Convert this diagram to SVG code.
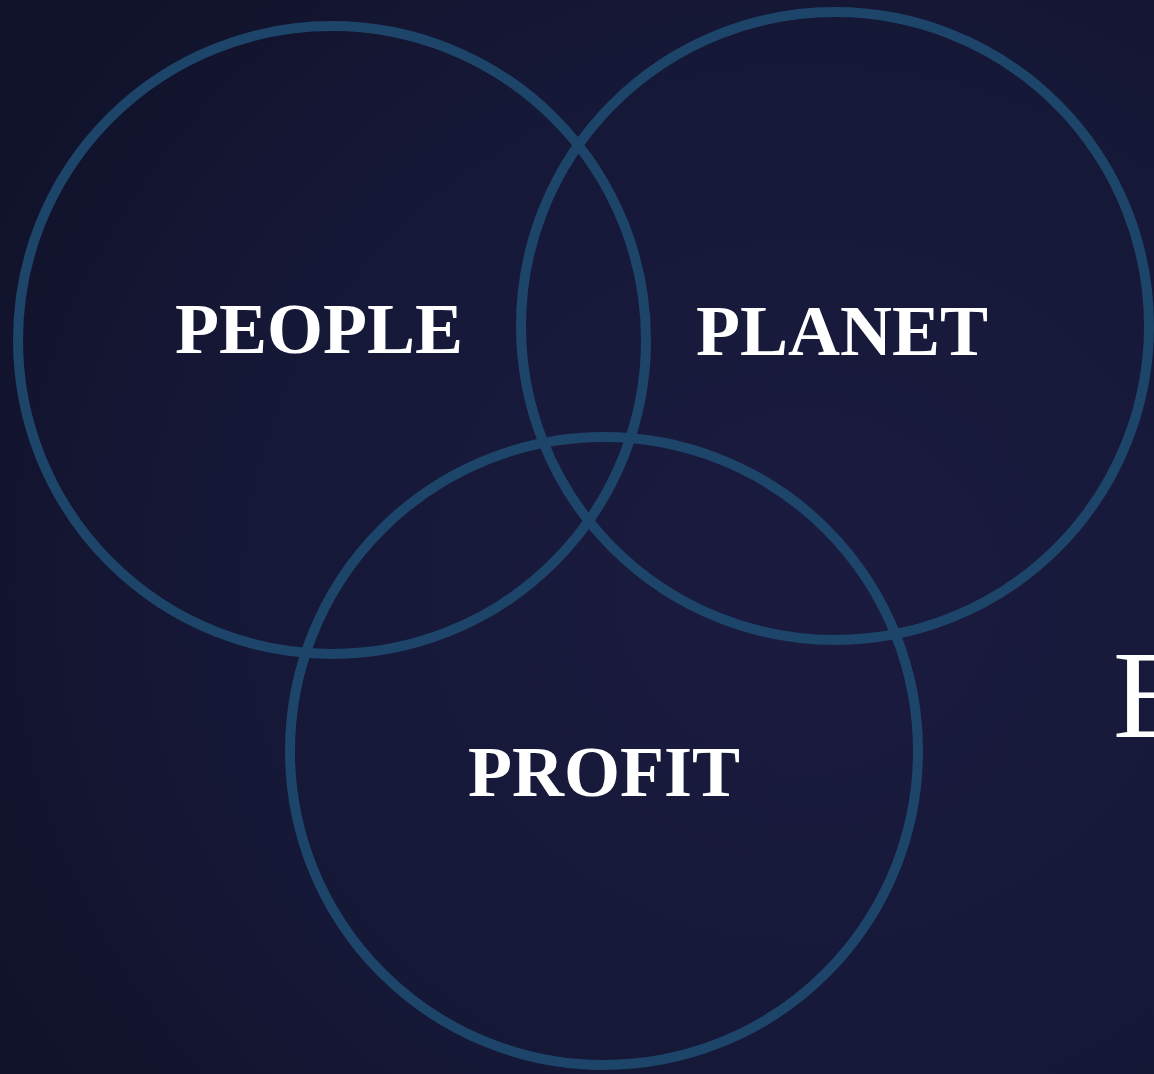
<svg xmlns="http://www.w3.org/2000/svg" width="1154" height="1074" viewBox="0 0 1154 1074">
<defs>
<radialGradient id="bg" cx="0.7" cy="0.55" r="0.8">
<stop offset="0" stop-color="#1a1b3f"/>
<stop offset="0.6" stop-color="#161838"/>
<stop offset="1" stop-color="#11132b"/>
</radialGradient>
<style>
.ring{fill:none;stroke:#1d4569;stroke-width:10}
.lbl{font-family:"Liberation Serif","Times New Roman",serif;font-weight:bold;font-size:72px;fill:#ffffff;text-anchor:middle}
</style>
</defs>
<rect width="1154" height="1074" fill="url(#bg)"/>
<g id="people"><circle class="ring" cx="332" cy="340" r="314"/><text class="lbl" x="319" y="353">PEOPLE</text></g>
<g id="planet"><circle class="ring" cx="835" cy="326" r="314"/><text class="lbl" x="842" y="355">PLANET</text></g>
<g id="profit"><circle class="ring" cx="604" cy="751" r="314"/><text class="lbl" x="604" y="796">PROFIT</text></g>
<g id="connectors"/>
<text x="1113" y="737" font-family="Liberation Serif,serif" font-size="125" fill="#ffffff">E</text>
</svg>
